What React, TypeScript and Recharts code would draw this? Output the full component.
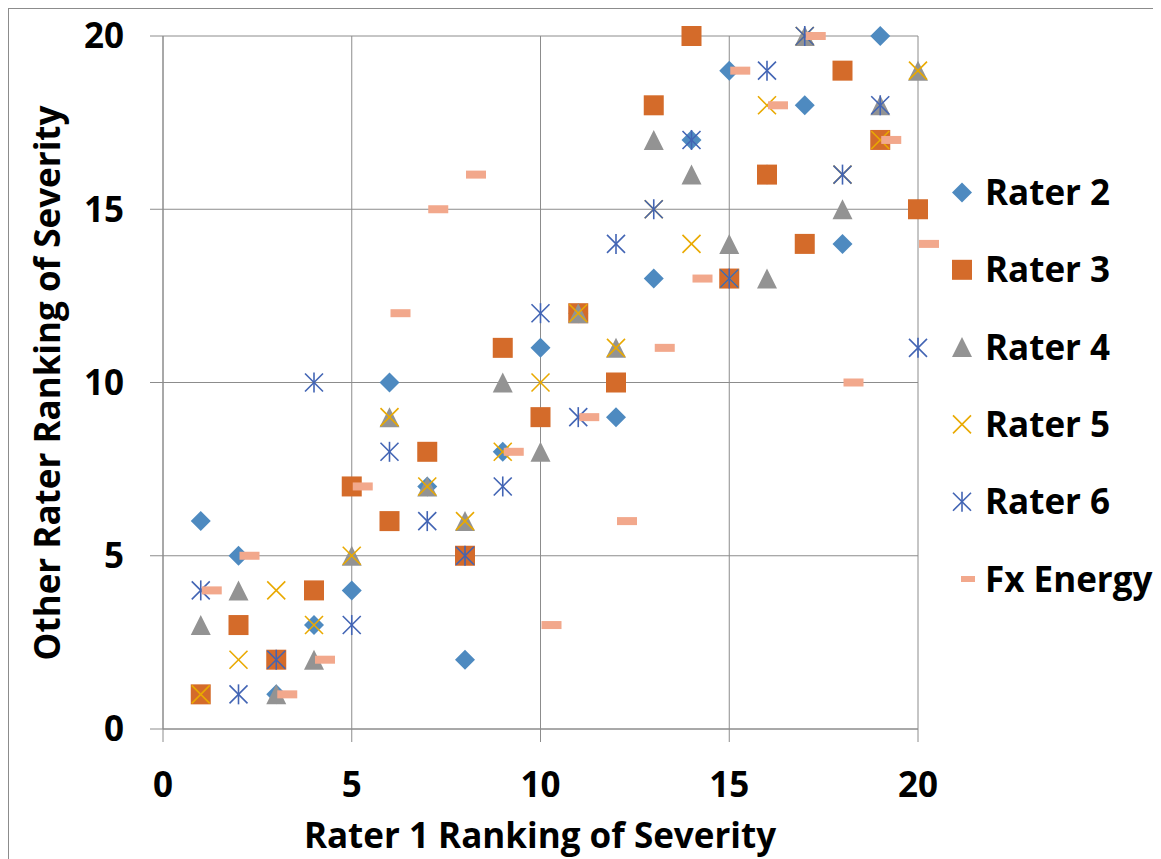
import React from "react";
import { ScatterChart, Scatter, XAxis, YAxis, CartesianGrid, Label } from "recharts";

// Rater 1 ranking (x) and the other raters' rankings (y)
const rater1 = [1, 2, 3, 4, 5, 6, 7, 8, 9, 10, 11, 12, 13, 14, 15, 16, 17, 18, 19, 20];
const rater2 = [6, 5, 1, 3, 4, 10, 7, 2, 8, 11, 12, 9, 13, 17, 19, 16, 18, 14, 20, 15];
const rater3 = [1, 3, 2, 4, 7, 6, 8, 5, 11, 9, 12, 10, 18, 20, 13, 16, 14, 19, 17, 15];
const rater4 = [3, 4, 1, 2, 5, 9, 7, 6, 10, 8, 12, 11, 17, 16, 14, 13, 20, 15, 18, 19];
const rater5 = [1, 2, 4, 3, 5, 9, 7, 6, 8, 10, 12, 11, 15, 14, 13, 18, 20, 16, 17, 19];
const rater6 = [4, 1, 2, 10, 3, 8, 6, 5, 7, 12, 9, 14, 15, 17, 13, 19, 20, 16, 18, 11];
const fxEnergy = [4, 5, 1, 2, 7, 12, 15, 16, 8, 3, 9, 6, 11, 13, 19, 18, 20, 10, 17, 14];
const axisTicks = [0, 5, 10, 15, 20];

const FONT = "'Open Sans', sans-serif";
const GRID = "#8c8c8c";
const COLORS = {
  r2: "#4e8ac0",
  r3: "#d46b2a",
  r4: "#939393",
  r5: "#e9a900",
  r6: "#4264b4",
  fx: "#f2a88c",
};

const toPoints = (vals: number[]) => rater1.map((x, i) => ({ x, y: vals[i] }));

type P = { cx?: number; cy?: number };

const Diamond = ({ cx = 0, cy = 0 }: P) => (
  <polygon points={`${cx},${cy - 10} ${cx + 10},${cy} ${cx},${cy + 10} ${cx - 10},${cy}`} fill={COLORS.r2} />
);
const Square = ({ cx = 0, cy = 0 }: P) => (
  <rect x={cx - 10} y={cy - 10} width={20} height={20} fill={COLORS.r3} />
);
const Triangle = ({ cx = 0, cy = 0 }: P) => (
  <polygon points={`${cx},${cy - 10} ${cx + 10},${cy + 10} ${cx - 10},${cy + 10}`} fill={COLORS.r4} />
);
const Cross = ({ cx = 0, cy = 0 }: P) => (
  <g stroke={COLORS.r5} strokeWidth={1.6}>
    <line x1={cx - 9} y1={cy - 9} x2={cx + 9} y2={cy + 9} />
    <line x1={cx - 9} y1={cy + 9} x2={cx + 9} y2={cy - 9} />
  </g>
);
const Star = ({ cx = 0, cy = 0 }: P) => (
  <g stroke={COLORS.r6} strokeWidth={1.6}>
    <line x1={cx - 9} y1={cy - 9} x2={cx + 9} y2={cy + 9} />
    <line x1={cx - 9} y1={cy + 9} x2={cx + 9} y2={cy - 9} />
    <line x1={cx} y1={cy - 10} x2={cx} y2={cy + 10} />
  </g>
);
const Dash = ({ cx = 0, cy = 0 }: P) => (
  <rect x={cx + 1} y={cy - 4} width={20} height={8} fill={COLORS.fx} />
);

const legendItems = [
  { name: "Rater 2", Icon: Diamond },
  { name: "Rater 3", Icon: Square },
  { name: "Rater 4", Icon: Triangle },
  { name: "Rater 5", Icon: Cross },
  { name: "Rater 6", Icon: Star },
  { name: "Fx Energy", Icon: null },
];

const tickStyle = { fontSize: 35, fontWeight: 700, fill: "#000", fontFamily: FONT };

export default function App() {
  return (
    <div
      style={{
        position: "relative",
        width: 1150,
        height: 850,
        borderTop: `1px solid ${GRID}`,
        borderLeft: `1px solid ${GRID}`,
        borderRight: `1px solid ${GRID}`,
        background: "#fff",
      }}
    >
      <ScatterChart width={1150} height={850} margin={{ top: 27, right: 241, left: 0, bottom: 0 }}>
        <CartesianGrid stroke={GRID} strokeWidth={1} />
        <XAxis
          type="number"
          dataKey="x"
          domain={[0, 20]}
          ticks={axisTicks}
          interval={0}
          height={130}
          tickSize={13}
          tickMargin={30}
          axisLine={{ stroke: GRID }}
          tickLine={{ stroke: GRID }}
          tick={tickStyle}
        >
          <Label
            content={() => (
              <text x={531} y={839} textAnchor="middle" style={tickStyle}>
                Rater 1 Ranking of Severity
              </text>
            )}
          />
        </XAxis>
        <YAxis
          type="number"
          dataKey="y"
          domain={[0, 20]}
          ticks={axisTicks}
          interval={0}
          width={154}
          tickSize={13}
          tickMargin={26}
          axisLine={{ stroke: GRID }}
          tickLine={{ stroke: GRID }}
          tick={tickStyle}
        >
          <Label
            content={() => (
              <text x={51} y={374} textAnchor="middle" transform="rotate(-90, 51, 374)" style={tickStyle}>
                Other Rater Ranking of Severity
              </text>
            )}
          />
        </YAxis>
        <Scatter name="Rater 2" data={toPoints(rater2)} shape={(p: P) => <Diamond {...p} />} isAnimationActive={false} />
        <Scatter name="Rater 3" data={toPoints(rater3)} shape={(p: P) => <Square {...p} />} isAnimationActive={false} />
        <Scatter name="Rater 4" data={toPoints(rater4)} shape={(p: P) => <Triangle {...p} />} isAnimationActive={false} />
        <Scatter name="Rater 5" data={toPoints(rater5)} shape={(p: P) => <Cross {...p} />} isAnimationActive={false} />
        <Scatter name="Rater 6" data={toPoints(rater6)} shape={(p: P) => <Star {...p} />} isAnimationActive={false} />
        <Scatter name="Fx Energy" data={toPoints(fxEnergy)} shape={(p: P) => <Dash {...p} />} isAnimationActive={false} />
      </ScatterChart>
      <svg width={1150} height={850} style={{ position: "absolute", left: 0, top: 0, pointerEvents: "none" }}>
        {legendItems.map((item, i) => {
          const cy = 183.5 + i * 77.3;
          return (
            <g key={item.name}>
              {item.Icon ? (
                <item.Icon cx={953} cy={cy} />
              ) : (
                <rect x={952} y={cy - 3} width={14} height={6} fill={COLORS.fx} />
              )}
              <text x={976} y={cy + 12.5} style={tickStyle}>
                {item.name}
              </text>
            </g>
          );
        })}
      </svg>
    </div>
  );
}
